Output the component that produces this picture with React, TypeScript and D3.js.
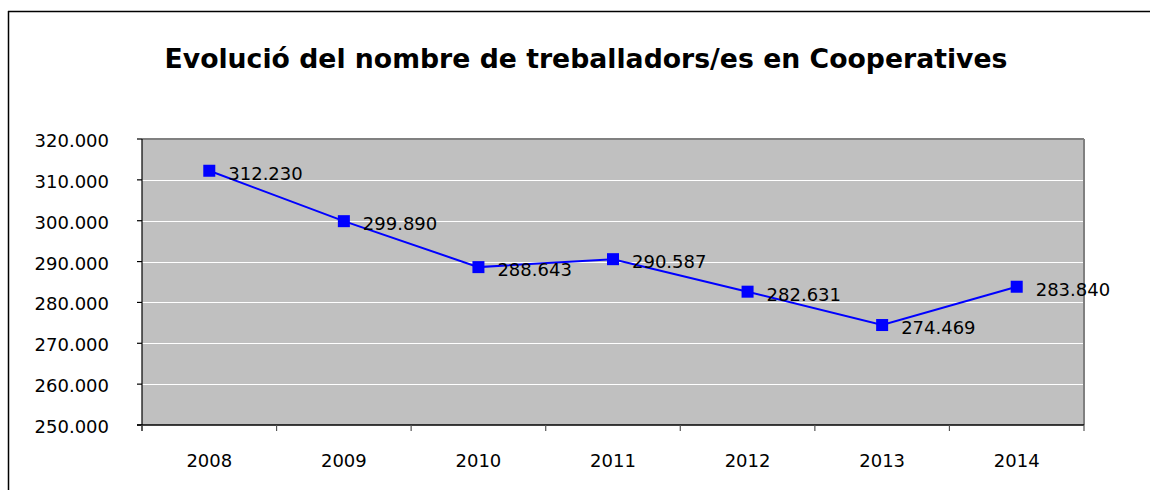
import React from "react";
import * as d3 from "d3";

const title = "Evolució del nombre de treballadors/es en Cooperatives";
const years = ["2008", "2009", "2010", "2011", "2012", "2013", "2014"];
const workers = [312230, 299890, 288643, 290587, 282631, 274469, 283840];
const yTicks = [250000, 260000, 270000, 280000, 290000, 300000, 310000, 320000];

const fmt = (v: number) => {
  const s = String(v);
  return s.slice(0, s.length - 3) + "." + s.slice(s.length - 3);
};

export default function App() {
  const W = 1150, H = 490;
  const left = 142, right = 1084, top = 139, bottom = 425;
  const x = d3.scaleBand<string>().domain(years).range([left, right]);
  const y = d3.scaleLinear().domain([250000, 320000]).range([bottom, top]);
  const cx = (d: string) => (x(d) as number) + x.bandwidth() / 2;
  const line = d3.line<number>().x((_, i) => cx(years[i])).y((v) => y(v));
  const font = "'DejaVu Sans', sans-serif";
  const boundaries = years.map((d) => x(d) as number).concat([right]);
  return (
    <svg width={W} height={H} style={{ position: "absolute", left: 0, top: 0, background: "#fff" }}>
      <line x1={8} y1={11.5} x2={W} y2={11.5} stroke="#000" strokeWidth={1.5} />
      <line x1={8.5} y1={11} x2={8.5} y2={H} stroke="#000" strokeWidth={1.5} />
      <text x={586} y={68} textAnchor="middle" fontFamily={font} fontWeight="bold" fontSize={27} textLength={843} lengthAdjust="spacingAndGlyphs" fill="#000">{title}</text>
      <rect x={left} y={top} width={right - left} height={bottom - top} fill="#C0C0C0" />
      {yTicks.slice(1, -1).map((t) => (
        <line key={t} x1={left} x2={right} y1={Math.round(y(t)) + 0.5} y2={Math.round(y(t)) + 0.5} stroke="#fff" strokeWidth={1} />
      ))}
      <line x1={left} x2={right} y1={top} y2={top} stroke="#808080" strokeWidth={2} />
      <line x1={right} x2={right} y1={top} y2={bottom} stroke="#808080" strokeWidth={2} />
      <line x1={left} x2={left} y1={top} y2={bottom + 6} stroke="#000" strokeWidth={1.2} />
      <line x1={left - 5} x2={right} y1={bottom} y2={bottom} stroke="#000" strokeWidth={1.5} />
      {yTicks.map((t) => (
        <g key={t}>
          <line x1={left - 5} x2={left} y1={y(t)} y2={y(t)} stroke="#000" strokeWidth={1.2} />
          <text x={109} y={y(t) + 8} textAnchor="end" fontFamily={font} fontSize={18} fill="#000">{fmt(t)}</text>
        </g>
      ))}
      {boundaries.map((b, i) => (
        <line key={i} x1={b} x2={b} y1={bottom} y2={bottom + 6} stroke="#555" strokeWidth={1.2} />
      ))}
      {years.map((d) => (
        <text key={d} x={cx(d)} y={467} textAnchor="middle" fontFamily={font} fontSize={18} fill="#000">{d}</text>
      ))}
      <path d={line(workers) as string} fill="none" stroke="#0000FF" strokeWidth={2} />
      {workers.map((v, i) => (
        <g key={i}>
          <rect x={cx(years[i]) - 6} y={y(v) - 6} width={12} height={12} fill="#0000FF" />
          <text x={cx(years[i]) + 19} y={y(v) + 9} fontFamily={font} fontSize={18} fill="#000">{fmt(v)}</text>
        </g>
      ))}
    </svg>
  );
}
